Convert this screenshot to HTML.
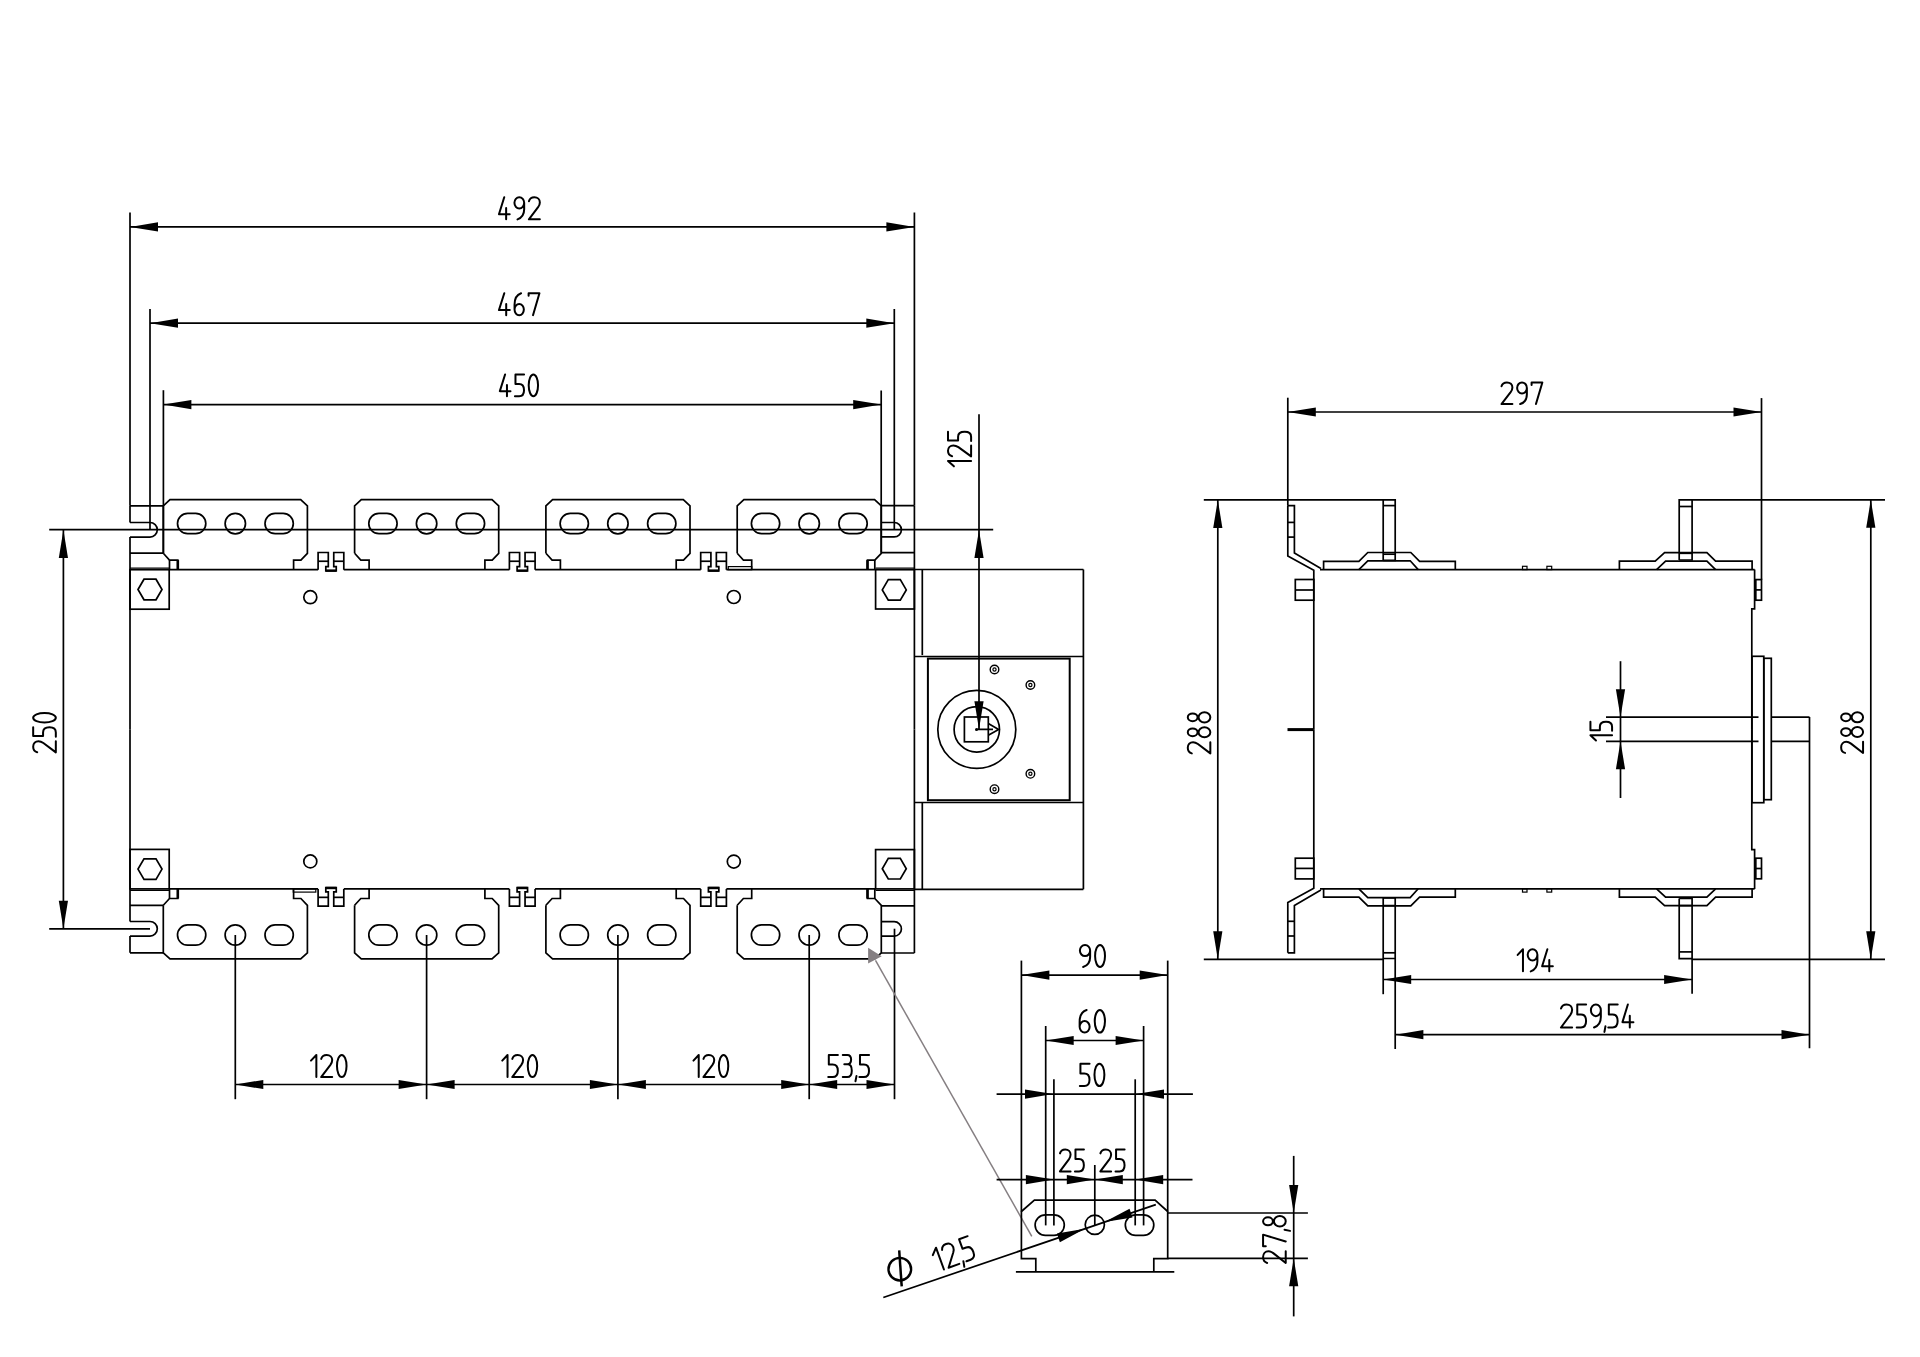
<!DOCTYPE html>
<html><head><meta charset="utf-8"><style>
html,body{margin:0;padding:0;background:#fff;width:1920px;height:1357px;overflow:hidden}
svg{display:block}
text{font-family:"Liberation Sans",sans-serif;fill:#000;stroke:none}
.st path{vector-effect:non-scaling-stroke;stroke-linecap:round;stroke-linejoin:round;fill:none}
</style></head><body>
<svg width="1920" height="1357" viewBox="0 0 1920 1357">
<g fill="none" stroke="#000" stroke-width="1.7" stroke-linecap="butt" stroke-linejoin="miter">
<g id="fronthalf">
<line x1="130.00" y1="505.80" x2="130.00" y2="522.50"/>
<line x1="130.00" y1="537.10" x2="130.00" y2="729.30"/>
<line x1="130.00" y1="505.80" x2="163.30" y2="505.80"/>
<path d="M130,522.5 H150 A7.3,7.3 0 0 1 150,537.1 H130"/>
<line x1="130.00" y1="553.20" x2="163.30" y2="553.20"/>
<rect x="130.00" y="569.70" width="39.20" height="39.50"/>
<polygon points="138,589.5 144,579.2 156,579.2 162,589.5 156,599.8 144,599.8"/>
<line x1="130.00" y1="568.20" x2="169.20" y2="568.20" stroke-width="1.3"/>
<line x1="914.40" y1="505.60" x2="914.40" y2="729.30"/>
<line x1="881.30" y1="505.60" x2="914.40" y2="505.60"/>
<line x1="881.30" y1="552.70" x2="914.40" y2="552.70"/>
<path d="M881.3,522.5 H894.2 A7.2,7.2 0 0 1 894.2,536.9 H881.3"/>
<rect x="875.60" y="569.70" width="38.80" height="39.30"/>
<polygon points="882.3,589.9 888.3,579.6 900.3,579.6 906.3,589.9 900.3,600.2 888.3,600.2"/>
<line x1="875.60" y1="568.20" x2="914.40" y2="568.20" stroke-width="1.3"/>
<path d="M163.30,553.3 V505.8 L170.00,499.7 H300.70 L307.40,505.8 V553.3 L300.90,560.1 H293.60 V569.7"/>
<path d="M163.30,553.3 L169.50,560.1 H177.80 V569.7"/>
<line x1="169.50" y1="560.10" x2="169.50" y2="569.70"/>
<line x1="177.80" y1="560.10" x2="177.80" y2="569.70" stroke-width="2.6"/>
<path d="M187.65,513.40 H195.65 A10.15,10.15 0 0 1 195.65,533.70 H187.65 A10.15,10.15 0 0 1 187.65,513.40 Z"/>
<circle cx="235.30" cy="523.60" r="10.20"/>
<path d="M275.15,513.40 H283.15 A10.15,10.15 0 0 1 283.15,533.70 H275.15 A10.15,10.15 0 0 1 275.15,513.40 Z"/>
<path d="M354.60,553.3 V505.8 L361.30,499.7 H492.00 L498.70,505.8 V553.3 L492.20,560.1 H484.90 V569.7"/>
<path d="M354.60,553.3 L360.80,560.1 H369.10 V569.7"/>
<path d="M378.95,513.40 H386.95 A10.15,10.15 0 0 1 386.95,533.70 H378.95 A10.15,10.15 0 0 1 378.95,513.40 Z"/>
<circle cx="426.60" cy="523.60" r="10.20"/>
<path d="M466.45,513.40 H474.45 A10.15,10.15 0 0 1 474.45,533.70 H466.45 A10.15,10.15 0 0 1 466.45,513.40 Z"/>
<path d="M545.90,553.3 V505.8 L552.60,499.7 H683.30 L690.00,505.8 V553.3 L683.50,560.1 H676.20 V569.7"/>
<path d="M545.90,553.3 L552.10,560.1 H560.40 V569.7"/>
<path d="M570.25,513.40 H578.25 A10.15,10.15 0 0 1 578.25,533.70 H570.25 A10.15,10.15 0 0 1 570.25,513.40 Z"/>
<circle cx="617.90" cy="523.60" r="10.20"/>
<path d="M657.75,513.40 H665.75 A10.15,10.15 0 0 1 665.75,533.70 H657.75 A10.15,10.15 0 0 1 657.75,513.40 Z"/>
<path d="M737.20,553.3 V505.8 L743.90,499.7 H874.60 L881.30,505.8 V553.3 L874.80,560.1 H867.50 V569.7"/>
<path d="M737.20,553.3 L743.40,560.1 H751.70 V569.7"/>
<line x1="874.80" y1="560.10" x2="874.80" y2="569.70"/>
<line x1="867.50" y1="560.10" x2="867.50" y2="569.70" stroke-width="2.6"/>
<path d="M761.55,513.40 H769.55 A10.15,10.15 0 0 1 769.55,533.70 H761.55 A10.15,10.15 0 0 1 761.55,513.40 Z"/>
<circle cx="809.20" cy="523.60" r="10.20"/>
<path d="M849.05,513.40 H857.05 A10.15,10.15 0 0 1 857.05,533.70 H849.05 A10.15,10.15 0 0 1 849.05,513.40 Z"/>
<path d="M318.10,569.7 V552.5 H328.30 V566.7 H325.80 V571.0 H336.25 V566.7 H333.75 V552.5 H343.80 V569.7"/>
<line x1="318.10" y1="561.25" x2="328.30" y2="561.25"/>
<line x1="333.75" y1="561.25" x2="343.80" y2="561.25"/>
<line x1="325.80" y1="570.60" x2="336.25" y2="570.60" stroke-width="2.4"/>
<path d="M509.40,569.7 V552.5 H519.60 V566.7 H517.10 V571.0 H527.55 V566.7 H525.05 V552.5 H535.10 V569.7"/>
<line x1="509.40" y1="561.25" x2="519.60" y2="561.25"/>
<line x1="525.05" y1="561.25" x2="535.10" y2="561.25"/>
<line x1="517.10" y1="570.60" x2="527.55" y2="570.60" stroke-width="2.4"/>
<path d="M700.70,569.7 V552.5 H710.90 V566.7 H708.40 V571.0 H718.85 V566.7 H716.35 V552.5 H726.40 V569.7"/>
<line x1="700.70" y1="561.25" x2="710.90" y2="561.25"/>
<line x1="716.35" y1="561.25" x2="726.40" y2="561.25"/>
<line x1="708.40" y1="570.60" x2="718.85" y2="570.60" stroke-width="2.4"/>
<line x1="169.20" y1="569.70" x2="318.10" y2="569.70"/>
<line x1="343.80" y1="569.70" x2="509.40" y2="569.70"/>
<line x1="535.10" y1="569.70" x2="700.70" y2="569.70"/>
<line x1="726.40" y1="569.70" x2="875.60" y2="569.70"/>
<circle cx="310.30" cy="597.20" r="6.50"/>
<circle cx="733.80" cy="597.00" r="6.50"/>
</g>
<use href="#fronthalf" transform="matrix(1,0,0,-1,0,1458.60)"/>
<rect x="728.30" y="566.60" width="23.40" height="3.10" stroke-width="1.2"/>
<rect x="293.30" y="889.00" width="22.50" height="3.10" stroke-width="1.2"/>
<line x1="914.40" y1="569.50" x2="1083.40" y2="569.50"/>
<line x1="1083.40" y1="569.50" x2="1083.40" y2="889.30"/>
<line x1="914.40" y1="889.30" x2="1083.40" y2="889.30"/>
<line x1="922.30" y1="569.50" x2="922.30" y2="655.10"/>
<line x1="922.30" y1="802.70" x2="922.30" y2="889.30"/>
<line x1="914.40" y1="656.50" x2="1083.40" y2="656.50"/>
<line x1="914.40" y1="802.50" x2="1083.40" y2="802.50"/>
<rect x="927.90" y="658.60" width="141.80" height="141.60" stroke-width="2.0"/>
<circle cx="976.80" cy="729.40" r="39.00"/>
<circle cx="976.80" cy="729.40" r="22.70"/>
<rect x="964.40" y="717.00" width="23.90" height="24.80"/>
<path d="M976.8,729.4 H993.0 M988.3,723.6 L998.6,729.4 L988.3,735.2"/>
<circle cx="976.5" cy="729.4" r="1.5" fill="#000" stroke="none"/>
<circle cx="994.50" cy="669.50" r="4.30" stroke-width="1.4"/>
<circle cx="994.50" cy="669.50" r="1.60" stroke-width="1.2"/>
<circle cx="1030.40" cy="685.00" r="4.30" stroke-width="1.4"/>
<circle cx="1030.40" cy="685.00" r="1.60" stroke-width="1.2"/>
<circle cx="1030.40" cy="773.80" r="4.30" stroke-width="1.4"/>
<circle cx="1030.40" cy="773.80" r="1.60" stroke-width="1.2"/>
<circle cx="994.50" cy="789.20" r="4.30" stroke-width="1.4"/>
<circle cx="994.50" cy="789.20" r="1.60" stroke-width="1.2"/>
<line x1="130.00" y1="212.60" x2="130.00" y2="505.80"/>
<line x1="914.40" y1="212.60" x2="914.40" y2="505.60"/>
<line x1="130.00" y1="226.90" x2="914.40" y2="226.90"/>
<polygon points="130.00,226.90 158.00,222.30 158.00,231.50" fill="#000" stroke="none"/>
<polygon points="914.40,226.90 886.40,231.50 886.40,222.30" fill="#000" stroke="none"/>
<g class="st" transform="translate(498.00,196.30) scale(1.0047,1.0000)" stroke-width="2.0"><path transform="translate(0.00,0)" d="M6.2,0.95 L0.95,17.9 H11.65 M8.1,11.7 V23.05"/><path transform="translate(15.40,0)" d="M0.95,6.55 A4.85,5.60 0 1 0 10.65,6.55 A4.85,5.60 0 1 0 0.95,6.55Z M10.65,6.55 V13.0 C10.65,18.0 8.2,21.6 4.0,23.05"/><path transform="translate(29.80,0)" d="M1.0,4.9 C1.7,2.3 3.7,0.95 6.4,0.95 C9.6,0.95 11.85,3.1 11.85,6.1 C11.85,8.1 11.1,9.5 10.1,10.9 L0.95,23.05 H11.85"/></g>
<line x1="150.00" y1="309.00" x2="150.00" y2="529.70"/>
<line x1="894.30" y1="309.00" x2="894.30" y2="529.70"/>
<line x1="150.00" y1="323.20" x2="894.30" y2="323.20"/>
<polygon points="150.00,323.20 178.00,318.60 178.00,327.80" fill="#000" stroke="none"/>
<polygon points="894.30,323.20 866.30,327.80 866.30,318.60" fill="#000" stroke="none"/>
<g class="st" transform="translate(498.00,292.30) scale(1.0119,0.9917)" stroke-width="2.0"><path transform="translate(0.00,0)" d="M6.2,0.95 L0.95,17.9 H11.65 M8.1,11.7 V23.05"/><path transform="translate(15.40,0)" d="M0.95,17.45 A4.60,5.60 0 1 0 10.15,17.45 A4.60,5.60 0 1 0 0.95,17.45Z M0.95,17.45 V12.5 C0.95,6.5 3.3,2.4 7.4,0.95"/><path transform="translate(29.30,0)" d="M0.95,3.6 V0.95 H11.65 L5.3,23.05"/></g>
<line x1="163.40" y1="390.20" x2="163.40" y2="553.20"/>
<line x1="881.20" y1="390.50" x2="881.20" y2="552.70"/>
<line x1="163.40" y1="404.60" x2="881.20" y2="404.60"/>
<polygon points="163.40,404.60 191.40,400.00 191.40,409.20" fill="#000" stroke="none"/>
<polygon points="881.20,404.60 853.20,409.20 853.20,400.00" fill="#000" stroke="none"/>
<g class="st" transform="translate(498.90,373.60) scale(0.9950,0.9792)" stroke-width="2.0"><path transform="translate(0.00,0)" d="M6.2,0.95 L0.95,17.9 H11.65 M8.1,11.7 V23.05"/><path transform="translate(15.40,0)" d="M9.9,0.95 H1.25 V10.6 H4.9 C8.0,10.6 9.85,13.2 9.85,16.9 C9.85,20.8 7.9,23.05 4.9,23.05 H0.7"/><path transform="translate(29.00,0)" d="M0.95,12.00 A4.70,11.05 0 1 0 10.35,12.00 A4.70,11.05 0 1 0 0.95,12.00Z"/></g>
<line x1="49.20" y1="529.70" x2="993.20" y2="529.70"/>
<line x1="979.00" y1="414.30" x2="979.00" y2="729.20"/>
<polygon points="979.00,529.90 983.60,557.90 974.40,557.90" fill="#000" stroke="none"/>
<polygon points="979.00,729.20 974.40,701.20 983.60,701.20" fill="#000" stroke="none"/>
<g class="st" transform="translate(947.00,467.30) rotate(-90) scale(1.0027,1.0458)" stroke-width="2.0"><path transform="translate(0.00,0)" d="M0.95,6.6 L6.25,0.95 V23.05"/><path transform="translate(10.00,0)" d="M1.0,4.9 C1.7,2.3 3.7,0.95 6.4,0.95 C9.6,0.95 11.85,3.1 11.85,6.1 C11.85,8.1 11.1,9.5 10.1,10.9 L0.95,23.05 H11.85"/><path transform="translate(25.60,0)" d="M9.9,0.95 H1.25 V10.6 H4.9 C8.0,10.6 9.85,13.2 9.85,16.9 C9.85,20.8 7.9,23.05 4.9,23.05 H0.7"/></g>
<line x1="49.20" y1="928.80" x2="150.00" y2="928.80"/>
<line x1="63.40" y1="529.90" x2="63.40" y2="928.80"/>
<polygon points="63.40,529.90 68.00,557.90 58.80,557.90" fill="#000" stroke="none"/>
<polygon points="63.40,928.80 58.80,900.80 68.00,900.80" fill="#000" stroke="none"/>
<g class="st" transform="translate(32.20,753.30) rotate(-90) scale(1.0198,1.0250)" stroke-width="2.0"><path transform="translate(0.00,0)" d="M1.0,4.9 C1.7,2.3 3.7,0.95 6.4,0.95 C9.6,0.95 11.85,3.1 11.85,6.1 C11.85,8.1 11.1,9.5 10.1,10.9 L0.95,23.05 H11.85"/><path transform="translate(15.60,0)" d="M9.9,0.95 H1.25 V10.6 H4.9 C8.0,10.6 9.85,13.2 9.85,16.9 C9.85,20.8 7.9,23.05 4.9,23.05 H0.7"/><path transform="translate(29.20,0)" d="M0.95,12.00 A4.70,11.05 0 1 0 10.35,12.00 A4.70,11.05 0 1 0 0.95,12.00Z"/></g>
<line x1="235.30" y1="935.00" x2="235.30" y2="1099.20"/>
<line x1="426.60" y1="935.00" x2="426.60" y2="1099.20"/>
<line x1="617.90" y1="935.00" x2="617.90" y2="1099.20"/>
<line x1="809.20" y1="935.00" x2="809.20" y2="1099.20"/>
<line x1="894.50" y1="928.70" x2="894.50" y2="1099.20"/>
<line x1="235.30" y1="1084.50" x2="894.50" y2="1084.50"/>
<polygon points="235.30,1084.50 263.30,1079.90 263.30,1089.10" fill="#000" stroke="none"/>
<polygon points="426.60,1084.50 398.60,1089.10 398.60,1079.90" fill="#000" stroke="none"/>
<polygon points="426.60,1084.50 454.60,1079.90 454.60,1089.10" fill="#000" stroke="none"/>
<polygon points="617.90,1084.50 589.90,1089.10 589.90,1079.90" fill="#000" stroke="none"/>
<polygon points="617.90,1084.50 645.90,1079.90 645.90,1089.10" fill="#000" stroke="none"/>
<polygon points="809.20,1084.50 781.20,1089.10 781.20,1079.90" fill="#000" stroke="none"/>
<polygon points="809.20,1084.50 837.20,1079.90 837.20,1089.10" fill="#000" stroke="none"/>
<polygon points="894.50,1084.50 866.50,1089.10 866.50,1079.90" fill="#000" stroke="none"/>
<g class="st" transform="translate(310.00,1054.00) scale(1.0163,1.0000)" stroke-width="2.0"><path transform="translate(0.00,0)" d="M0.95,6.6 L6.25,0.95 V23.05"/><path transform="translate(10.00,0)" d="M1.0,4.9 C1.7,2.3 3.7,0.95 6.4,0.95 C9.6,0.95 11.85,3.1 11.85,6.1 C11.85,8.1 11.1,9.5 10.1,10.9 L0.95,23.05 H11.85"/><path transform="translate(25.60,0)" d="M0.95,12.00 A4.70,11.05 0 1 0 10.35,12.00 A4.70,11.05 0 1 0 0.95,12.00Z"/></g>
<g class="st" transform="translate(501.30,1054.00) scale(0.9973,1.0000)" stroke-width="2.0"><path transform="translate(0.00,0)" d="M0.95,6.6 L6.25,0.95 V23.05"/><path transform="translate(10.00,0)" d="M1.0,4.9 C1.7,2.3 3.7,0.95 6.4,0.95 C9.6,0.95 11.85,3.1 11.85,6.1 C11.85,8.1 11.1,9.5 10.1,10.9 L0.95,23.05 H11.85"/><path transform="translate(25.60,0)" d="M0.95,12.00 A4.70,11.05 0 1 0 10.35,12.00 A4.70,11.05 0 1 0 0.95,12.00Z"/></g>
<g class="st" transform="translate(692.50,1054.00) scale(0.9946,1.0000)" stroke-width="2.0"><path transform="translate(0.00,0)" d="M0.95,6.6 L6.25,0.95 V23.05"/><path transform="translate(10.00,0)" d="M1.0,4.9 C1.7,2.3 3.7,0.95 6.4,0.95 C9.6,0.95 11.85,3.1 11.85,6.1 C11.85,8.1 11.1,9.5 10.1,10.9 L0.95,23.05 H11.85"/><path transform="translate(25.60,0)" d="M0.95,12.00 A4.70,11.05 0 1 0 10.35,12.00 A4.70,11.05 0 1 0 0.95,12.00Z"/></g>
<g class="st" transform="translate(827.50,1054.00) scale(1.0494,1.0000)" stroke-width="2.0"><path transform="translate(0.00,0)" d="M9.9,0.95 H1.25 V10.6 H4.9 C8.0,10.6 9.85,13.2 9.85,16.9 C9.85,20.8 7.9,23.05 4.9,23.05 H0.7"/><path transform="translate(13.60,0)" d="M0.95,0.95 H5.3 C7.6,0.95 8.9,2.9 8.9,5.6 C8.9,8.3 7.5,10.3 5.4,10.3 H2.4 M5.4,10.3 C8.1,10.3 9.55,13.1 9.55,16.7 C9.55,20.7 7.9,23.05 5.2,23.05 H0.95"/><path transform="translate(25.70,0)" d="M1.95,21.9 L0.95,27.3"/><path transform="translate(29.70,0)" d="M9.9,0.95 H1.25 V10.6 H4.9 C8.0,10.6 9.85,13.2 9.85,16.9 C9.85,20.8 7.9,23.05 4.9,23.05 H0.7"/></g>
<line x1="875.50" y1="960.40" x2="1031.80" y2="1236.40" stroke-width="1.5" stroke="#857f82"/>
<polygon points="868.1,947.7 881.7,956.2 868.1,963.6" fill="#857f82" stroke="none"/>
<g id="sidehalf">
<path d="M1287.8,505.6 V556.0 L1313.8,570.2 V729.2"/>
<path d="M1287.8,505.6 H1294.4 V553.0 L1320.9,568.4"/>
<line x1="1287.80" y1="522.40" x2="1294.40" y2="522.40"/>
<line x1="1287.80" y1="537.10" x2="1294.40" y2="537.10"/>
<rect x="1295.30" y="579.50" width="18.50" height="20.70"/>
<line x1="1295.30" y1="590.00" x2="1313.80" y2="590.00"/>
<rect x="1755.80" y="579.60" width="5.70" height="20.60"/>
<line x1="1755.80" y1="589.90" x2="1761.50" y2="589.90"/>
<line x1="1320.00" y1="569.60" x2="1754.60" y2="569.60"/>
<path d="M1754.6,569.4 V608.8 H1751.8 V729.2"/>
<path d="M1383.2,560.4 V499.9 H1395.2 V560.4 H1383.2"/>
<line x1="1383.20" y1="505.60" x2="1395.20" y2="505.60"/>
<path d="M1323.6,569.6 V561.3 H1358.9 L1367.8,552.5 H1410.8 L1419.6,561.3 H1455.3 V569.6"/>
<path d="M1358.9,569.6 L1367.8,560.8 H1410.2 L1418.2,569.6"/>
<path d="M1679.2,560.0 V499.8 H1692.1 V560.0 H1679.2"/>
<line x1="1679.20" y1="506.50" x2="1692.10" y2="506.50"/>
<path d="M1619.4,569.6 V561.2 H1655.2 L1664.6,552.7 H1706.9 L1715.6,561.2 H1752.1 V569.6"/>
<path d="M1656.6,569.6 L1665.6,561.2 H1706.9 L1715.6,569.6"/>
<rect x="1522.50" y="566.30" width="4.50" height="3.30" stroke-width="1.2"/>
<rect x="1546.90" y="566.30" width="4.80" height="3.30" stroke-width="1.2"/>
</g>
<use href="#sidehalf" transform="matrix(1,0,0,-1,0,1458.40)"/>
<line x1="1383.20" y1="554.20" x2="1395.20" y2="554.20"/>
<line x1="1679.20" y1="553.30" x2="1692.10" y2="553.30"/>
<line x1="1383.20" y1="905.60" x2="1395.20" y2="905.60"/>
<line x1="1679.20" y1="905.60" x2="1692.10" y2="905.60"/>
<rect x="1752.00" y="656.30" width="11.80" height="146.40"/>
<rect x="1763.80" y="658.30" width="7.50" height="141.40"/>
<line x1="1606.00" y1="717.10" x2="1758.50" y2="717.10"/>
<line x1="1606.00" y1="741.30" x2="1758.50" y2="741.30"/>
<line x1="1771.30" y1="717.10" x2="1809.50" y2="717.10"/>
<line x1="1771.30" y1="741.30" x2="1809.50" y2="741.30"/>
<line x1="1809.50" y1="717.10" x2="1809.50" y2="1048.30"/>
<line x1="1287.50" y1="729.60" x2="1313.60" y2="729.60" stroke-width="3.0"/>
<line x1="1287.80" y1="397.70" x2="1287.80" y2="505.60"/>
<line x1="1761.50" y1="398.10" x2="1761.50" y2="579.60"/>
<line x1="1287.80" y1="412.00" x2="1761.50" y2="412.00"/>
<polygon points="1287.80,412.00 1315.80,407.40 1315.80,416.60" fill="#000" stroke="none"/>
<polygon points="1761.50,412.00 1733.50,416.60 1733.50,407.40" fill="#000" stroke="none"/>
<g class="st" transform="translate(1500.50,381.50) scale(1.0047,0.9792)" stroke-width="2.0"><path transform="translate(0.00,0)" d="M1.0,4.9 C1.7,2.3 3.7,0.95 6.4,0.95 C9.6,0.95 11.85,3.1 11.85,6.1 C11.85,8.1 11.1,9.5 10.1,10.9 L0.95,23.05 H11.85"/><path transform="translate(15.60,0)" d="M0.95,6.55 A4.85,5.60 0 1 0 10.65,6.55 A4.85,5.60 0 1 0 0.95,6.55Z M10.65,6.55 V13.0 C10.65,18.0 8.2,21.6 4.0,23.05"/><path transform="translate(30.00,0)" d="M0.95,3.6 V0.95 H11.65 L5.3,23.05"/></g>
<line x1="1203.80" y1="499.90" x2="1383.20" y2="499.90"/>
<line x1="1692.10" y1="499.80" x2="1885.00" y2="499.80"/>
<line x1="1203.80" y1="959.30" x2="1383.20" y2="959.30"/>
<line x1="1692.10" y1="959.30" x2="1885.00" y2="959.30"/>
<line x1="1217.80" y1="499.90" x2="1217.80" y2="959.30"/>
<polygon points="1217.80,499.90 1222.40,527.90 1213.20,527.90" fill="#000" stroke="none"/>
<polygon points="1217.80,959.30 1213.20,931.30 1222.40,931.30" fill="#000" stroke="none"/>
<g class="st" transform="translate(1186.80,754.40) rotate(-90) scale(1.0311,1.0208)" stroke-width="2.0"><path transform="translate(0.00,0)" d="M1.0,4.9 C1.7,2.3 3.7,0.95 6.4,0.95 C9.6,0.95 11.85,3.1 11.85,6.1 C11.85,8.1 11.1,9.5 10.1,10.9 L0.95,23.05 H11.85"/><path transform="translate(15.60,0)" d="M2.10,5.75 A3.75,4.80 0 1 0 9.60,5.75 A3.75,4.80 0 1 0 2.10,5.75Z M0.95,17.30 A4.90,5.75 0 1 0 10.75,17.30 A4.90,5.75 0 1 0 0.95,17.30Z"/><path transform="translate(30.10,0)" d="M2.10,5.75 A3.75,4.80 0 1 0 9.60,5.75 A3.75,4.80 0 1 0 2.10,5.75Z M0.95,17.30 A4.90,5.75 0 1 0 10.75,17.30 A4.90,5.75 0 1 0 0.95,17.30Z"/></g>
<line x1="1870.80" y1="499.80" x2="1870.80" y2="959.30"/>
<polygon points="1870.80,499.80 1875.40,527.80 1866.20,527.80" fill="#000" stroke="none"/>
<polygon points="1870.80,959.30 1866.20,931.30 1875.40,931.30" fill="#000" stroke="none"/>
<g class="st" transform="translate(1840.20,753.90) rotate(-90) scale(1.0167,0.9917)" stroke-width="2.0"><path transform="translate(0.00,0)" d="M1.0,4.9 C1.7,2.3 3.7,0.95 6.4,0.95 C9.6,0.95 11.85,3.1 11.85,6.1 C11.85,8.1 11.1,9.5 10.1,10.9 L0.95,23.05 H11.85"/><path transform="translate(15.60,0)" d="M2.10,5.75 A3.75,4.80 0 1 0 9.60,5.75 A3.75,4.80 0 1 0 2.10,5.75Z M0.95,17.30 A4.90,5.75 0 1 0 10.75,17.30 A4.90,5.75 0 1 0 0.95,17.30Z"/><path transform="translate(30.10,0)" d="M2.10,5.75 A3.75,4.80 0 1 0 9.60,5.75 A3.75,4.80 0 1 0 2.10,5.75Z M0.95,17.30 A4.90,5.75 0 1 0 10.75,17.30 A4.90,5.75 0 1 0 0.95,17.30Z"/></g>
<line x1="1620.50" y1="661.20" x2="1620.50" y2="798.00"/>
<polygon points="1620.50,717.20 1615.90,689.20 1625.10,689.20" fill="#000" stroke="none"/>
<polygon points="1620.50,741.20 1625.10,769.20 1615.90,769.20" fill="#000" stroke="none"/>
<g class="st" transform="translate(1589.50,741.40) rotate(-90) scale(0.9904,0.9792)" stroke-width="2.0"><path transform="translate(0.00,0)" d="M0.95,6.6 L6.25,0.95 V23.05"/><path transform="translate(10.00,0)" d="M9.9,0.95 H1.25 V10.6 H4.9 C8.0,10.6 9.85,13.2 9.85,16.9 C9.85,20.8 7.9,23.05 4.9,23.05 H0.7"/></g>
<line x1="1383.20" y1="958.90" x2="1383.20" y2="994.20"/>
<line x1="1395.20" y1="958.90" x2="1395.20" y2="1049.00"/>
<line x1="1692.10" y1="958.90" x2="1692.10" y2="993.80"/>
<line x1="1383.20" y1="979.50" x2="1692.10" y2="979.50"/>
<polygon points="1383.20,979.50 1411.20,974.90 1411.20,984.10" fill="#000" stroke="none"/>
<polygon points="1692.10,979.50 1664.10,984.10 1664.10,974.90" fill="#000" stroke="none"/>
<g class="st" transform="translate(1516.70,948.30) scale(1.0027,1.0000)" stroke-width="2.0"><path transform="translate(0.00,0)" d="M0.95,6.6 L6.25,0.95 V23.05"/><path transform="translate(10.00,0)" d="M0.95,6.55 A4.85,5.60 0 1 0 10.65,6.55 A4.85,5.60 0 1 0 0.95,6.55Z M10.65,6.55 V13.0 C10.65,18.0 8.2,21.6 4.0,23.05"/><path transform="translate(24.40,0)" d="M6.2,0.95 L0.95,17.9 H11.65 M8.1,11.7 V23.05"/></g>
<line x1="1395.40" y1="1034.70" x2="1809.50" y2="1034.70"/>
<polygon points="1395.40,1034.70 1423.40,1030.10 1423.40,1039.30" fill="#000" stroke="none"/>
<polygon points="1809.50,1034.70 1781.50,1039.30 1781.50,1030.10" fill="#000" stroke="none"/>
<g class="st" transform="translate(1560.00,1003.50) scale(1.0248,1.0417)" stroke-width="2.0"><path transform="translate(0.00,0)" d="M1.0,4.9 C1.7,2.3 3.7,0.95 6.4,0.95 C9.6,0.95 11.85,3.1 11.85,6.1 C11.85,8.1 11.1,9.5 10.1,10.9 L0.95,23.05 H11.85"/><path transform="translate(15.60,0)" d="M9.9,0.95 H1.25 V10.6 H4.9 C8.0,10.6 9.85,13.2 9.85,16.9 C9.85,20.8 7.9,23.05 4.9,23.05 H0.7"/><path transform="translate(29.20,0)" d="M0.95,6.55 A4.85,5.60 0 1 0 10.65,6.55 A4.85,5.60 0 1 0 0.95,6.55Z M10.65,6.55 V13.0 C10.65,18.0 8.2,21.6 4.0,23.05"/><path transform="translate(42.40,0)" d="M1.95,21.9 L0.95,27.3"/><path transform="translate(46.40,0)" d="M9.9,0.95 H1.25 V10.6 H4.9 C8.0,10.6 9.85,13.2 9.85,16.9 C9.85,20.8 7.9,23.05 4.9,23.05 H0.7"/><path transform="translate(60.00,0)" d="M6.2,0.95 L0.95,17.9 H11.65 M8.1,11.7 V23.05"/></g>
<line x1="1021.40" y1="960.60" x2="1021.40" y2="1211.50"/>
<line x1="1167.70" y1="960.60" x2="1167.70" y2="1211.50"/>
<line x1="1021.40" y1="975.10" x2="1167.70" y2="975.10"/>
<polygon points="1021.40,975.10 1049.40,970.50 1049.40,979.70" fill="#000" stroke="none"/>
<polygon points="1167.70,975.10 1139.70,979.70 1139.70,970.50" fill="#000" stroke="none"/>
<g class="st" transform="translate(1078.90,944.00) scale(1.0545,0.9958)" stroke-width="2.0"><path transform="translate(0.00,0)" d="M0.95,6.55 A4.85,5.60 0 1 0 10.65,6.55 A4.85,5.60 0 1 0 0.95,6.55Z M10.65,6.55 V13.0 C10.65,18.0 8.2,21.6 4.0,23.05"/><path transform="translate(14.40,0)" d="M0.95,12.00 A4.70,11.05 0 1 0 10.35,12.00 A4.70,11.05 0 1 0 0.95,12.00Z"/></g>
<line x1="1045.70" y1="1026.00" x2="1045.70" y2="1225.40"/>
<line x1="1143.60" y1="1026.00" x2="1143.60" y2="1225.40"/>
<line x1="1045.70" y1="1040.50" x2="1143.60" y2="1040.50"/>
<polygon points="1045.70,1040.50 1073.70,1035.90 1073.70,1045.10" fill="#000" stroke="none"/>
<polygon points="1143.60,1040.50 1115.60,1045.10 1115.60,1035.90" fill="#000" stroke="none"/>
<g class="st" transform="translate(1078.60,1009.00) scale(1.0873,1.0208)" stroke-width="2.0"><path transform="translate(0.00,0)" d="M0.95,17.45 A4.60,5.60 0 1 0 10.15,17.45 A4.60,5.60 0 1 0 0.95,17.45Z M0.95,17.45 V12.5 C0.95,6.5 3.3,2.4 7.4,0.95"/><path transform="translate(13.90,0)" d="M0.95,12.00 A4.70,11.05 0 1 0 10.35,12.00 A4.70,11.05 0 1 0 0.95,12.00Z"/></g>
<line x1="1053.90" y1="1079.30" x2="1053.90" y2="1225.40"/>
<line x1="1135.20" y1="1079.30" x2="1135.20" y2="1225.40"/>
<line x1="996.60" y1="1094.10" x2="1192.90" y2="1094.10"/>
<polygon points="1053.00,1094.10 1025.00,1098.70 1025.00,1089.50" fill="#000" stroke="none"/>
<polygon points="1136.00,1094.10 1164.00,1089.50 1164.00,1098.70" fill="#000" stroke="none"/>
<g class="st" transform="translate(1079.10,1062.70) scale(1.0562,1.0125)" stroke-width="2.0"><path transform="translate(0.00,0)" d="M9.9,0.95 H1.25 V10.6 H4.9 C8.0,10.6 9.85,13.2 9.85,16.9 C9.85,20.8 7.9,23.05 4.9,23.05 H0.7"/><path transform="translate(13.60,0)" d="M0.95,12.00 A4.70,11.05 0 1 0 10.35,12.00 A4.70,11.05 0 1 0 0.95,12.00Z"/></g>
<line x1="1094.80" y1="1165.00" x2="1094.80" y2="1225.00"/>
<line x1="996.60" y1="1179.60" x2="1192.50" y2="1179.60"/>
<polygon points="1053.90,1179.60 1025.90,1184.20 1025.90,1175.00" fill="#000" stroke="none"/>
<polygon points="1094.80,1179.60 1066.80,1184.20 1066.80,1175.00" fill="#000" stroke="none"/>
<polygon points="1094.80,1179.60 1122.80,1175.00 1122.80,1184.20" fill="#000" stroke="none"/>
<polygon points="1135.20,1179.60 1163.20,1175.00 1163.20,1184.20" fill="#000" stroke="none"/>
<g class="st" transform="translate(1059.00,1148.50) scale(0.9773,0.9958)" stroke-width="2.0"><path transform="translate(0.00,0)" d="M1.0,4.9 C1.7,2.3 3.7,0.95 6.4,0.95 C9.6,0.95 11.85,3.1 11.85,6.1 C11.85,8.1 11.1,9.5 10.1,10.9 L0.95,23.05 H11.85"/><path transform="translate(15.60,0)" d="M9.9,0.95 H1.25 V10.6 H4.9 C8.0,10.6 9.85,13.2 9.85,16.9 C9.85,20.8 7.9,23.05 4.9,23.05 H0.7"/></g>
<g class="st" transform="translate(1099.40,1148.50) scale(0.9886,0.9958)" stroke-width="2.0"><path transform="translate(0.00,0)" d="M1.0,4.9 C1.7,2.3 3.7,0.95 6.4,0.95 C9.6,0.95 11.85,3.1 11.85,6.1 C11.85,8.1 11.1,9.5 10.1,10.9 L0.95,23.05 H11.85"/><path transform="translate(15.60,0)" d="M9.9,0.95 H1.25 V10.6 H4.9 C8.0,10.6 9.85,13.2 9.85,16.9 C9.85,20.8 7.9,23.05 4.9,23.05 H0.7"/></g>
<path d="M1035.8,1271.9 V1258.6 H1021.4 V1211.5 L1034.4,1200.2 H1155.1 L1167.7,1211.5 V1258.6 H1153.8 V1271.9"/>
<line x1="1015.90" y1="1271.90" x2="1174.30" y2="1271.90"/>
<path d="M1045.40,1214.80 H1054.00 A10.30,10.30 0 0 1 1054.00,1235.40 H1045.40 A10.30,10.30 0 0 1 1045.40,1214.80 Z"/>
<circle cx="1094.80" cy="1224.80" r="9.60"/>
<path d="M1135.60,1214.80 H1143.50 A10.30,10.30 0 0 1 1143.50,1235.40 H1135.60 A10.30,10.30 0 0 1 1135.60,1214.80 Z"/>
<line x1="1167.70" y1="1213.00" x2="1307.90" y2="1213.00"/>
<line x1="1167.70" y1="1258.30" x2="1307.90" y2="1258.30"/>
<line x1="1293.70" y1="1155.90" x2="1293.70" y2="1316.40"/>
<polygon points="1293.70,1213.00 1289.10,1185.00 1298.30,1185.00" fill="#000" stroke="none"/>
<polygon points="1293.70,1258.30 1298.30,1286.30 1289.10,1286.30" fill="#000" stroke="none"/>
<g class="st" transform="translate(1262.10,1264.00) rotate(-90) scale(1.0769,1.0250)" stroke-width="2.0"><path transform="translate(0.00,0)" d="M1.0,4.9 C1.7,2.3 3.7,0.95 6.4,0.95 C9.6,0.95 11.85,3.1 11.85,6.1 C11.85,8.1 11.1,9.5 10.1,10.9 L0.95,23.05 H11.85"/><path transform="translate(15.60,0)" d="M0.95,3.6 V0.95 H11.65 L5.3,23.05"/><path transform="translate(29.80,0)" d="M1.95,21.9 L0.95,27.3"/><path transform="translate(33.80,0)" d="M2.10,5.75 A3.75,4.80 0 1 0 9.60,5.75 A3.75,4.80 0 1 0 2.10,5.75Z M0.95,17.30 A4.90,5.75 0 1 0 10.75,17.30 A4.90,5.75 0 1 0 0.95,17.30Z"/></g>
<line x1="883.30" y1="1297.50" x2="1155.80" y2="1204.60"/>
<polygon points="1084.90,1228.80 1059.88,1242.19 1056.91,1233.48" fill="#000" stroke="none"/>
<polygon points="1104.50,1222.10 1129.52,1208.71 1132.49,1217.42" fill="#000" stroke="none"/>
<circle cx="899.8" cy="1269.2" r="11.3" stroke-width="2.4"/><line x1="899.2" y1="1250.4" x2="901.7" y2="1286.3" stroke-width="2.5"/>
<g class="st" transform="translate(929.50,1249.00) rotate(-20) scale(1.0500,1.0500)" stroke-width="2.0"><path transform="translate(0.00,0)" d="M0.95,6.6 L6.25,0.95 V23.05"/><path transform="translate(10.00,0)" d="M1.0,4.9 C1.7,2.3 3.7,0.95 6.4,0.95 C9.6,0.95 11.85,3.1 11.85,6.1 C11.85,8.1 11.1,9.5 10.1,10.9 L0.95,23.05 H11.85"/><path transform="translate(24.40,0)" d="M1.95,21.9 L0.95,27.3"/><path transform="translate(28.40,0)" d="M9.9,0.95 H1.25 V10.6 H4.9 C8.0,10.6 9.85,13.2 9.85,16.9 C9.85,20.8 7.9,23.05 4.9,23.05 H0.7"/></g>
</g>
</svg>
</body></html>
